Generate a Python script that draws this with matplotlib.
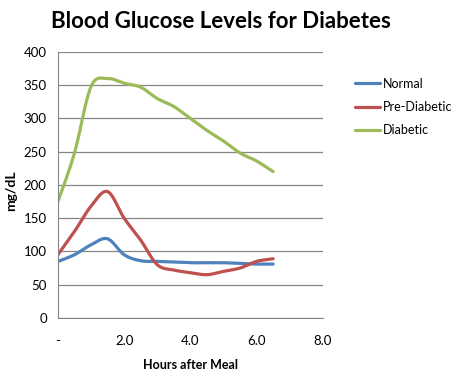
import matplotlib
matplotlib.use("Agg")
import matplotlib.pyplot as plt
import numpy as np

hours = [0.0, 0.5, 1.0, 1.5, 2.0, 2.5, 3.0, 3.5, 4.0, 4.5, 5.0, 5.5, 6.0, 6.5]
normal = [85, 95, 110, 119, 95, 86, 85, 84, 83, 83, 83, 82, 81, 81]
pre_diabetic = [95, 130, 168, 190, 150, 117, 80, 72, 68, 65, 70, 75, 85, 89]
diabetic = [175, 248, 348, 360, 353, 347, 330, 318, 300, 282, 266, 248, 236, 220]

series_names = ["Normal", "Pre-Diabetic", "Diabetic"]
colors = ["#4F81BD", "#C0504D", "#9BBB59"]
x_ticks = [0, 2, 4, 6, 8]
x_tick_labels = ["-", "2.0", "4.0", "6.0", "8.0"]


def smooth(x, y, n=20):
    # Catmull-Rom style smoothing between the points, like Excel's smoothed lines
    x = np.asarray(x, float)
    y = np.asarray(y, float)
    px = np.concatenate([[x[0]], x, [x[-1]]])
    py = np.concatenate([[y[0]], y, [y[-1]]])
    xs, ys = [], []
    t = np.linspace(0, 1, n)
    for i in range(1, len(px) - 2):
        p0 = np.array([px[i], py[i]])
        p3 = np.array([px[i + 1], py[i + 1]])
        c1 = p0 + (np.array([px[i + 1], py[i + 1]]) - np.array([px[i - 1], py[i - 1]])) / 6
        c2 = p3 - (np.array([px[i + 2], py[i + 2]]) - np.array([px[i], py[i]])) / 6
        b = ((1 - t) ** 3)[:, None] * p0 + (3 * (1 - t) ** 2 * t)[:, None] * c1 \
            + (3 * (1 - t) * t ** 2)[:, None] * c2 + (t ** 3)[:, None] * p3
        xs.extend(b[:, 0])
        ys.extend(b[:, 1])
    return xs, ys


plt.rcParams['font.family'] = ['Lato', 'DejaVu Sans']

fig = plt.figure(figsize=(4.56, 3.74), dpi=100)
ax = fig.add_axes([0.127, 0.150, 0.581, 0.711])

for vals, name, c in zip([normal, pre_diabetic, diabetic], series_names, colors):
    sx, sy = smooth(hours, vals)
    ax.plot(sx, sy, color=c, lw=2.3, label=name, solid_capstyle='round')

ax.set_xlim(0, 8)
ax.set_ylim(0, 400)
ax.set_yticks(range(0, 401, 50))
ax.set_xticks(x_ticks)
ax.set_xticklabels(x_tick_labels)
ax.yaxis.grid(True, color="#868686", lw=0.9)
ax.set_axisbelow(True)
for s in ["top", "right"]:
    ax.spines[s].set_visible(False)
for s in ["left", "bottom"]:
    ax.spines[s].set_color("#868686")
ax.tick_params(length=0, labelsize=9.5)
ax.tick_params(axis='x', pad=12)
ax.tick_params(axis='y', pad=8)

fig.text(0.485, 0.942, "Blood Glucose Levels for Diabetes", ha="center", va="center",
         fontsize=16, fontweight="bold")
fig.text(0.024, 0.49, "mg/dL", rotation=90, ha="center", va="center",
         fontsize=10, fontweight="bold")
fig.text(0.417, 0.025, "Hours after Meal", ha="center", va="center",
         fontsize=9, fontweight="bold")

ax.legend(loc="upper left", bbox_to_anchor=(1.08, 0.945), frameon=False,
          fontsize=9, handlelength=2.0, handletextpad=0.2, labelspacing=0.9)

fig.savefig("out.png", dpi=100)
